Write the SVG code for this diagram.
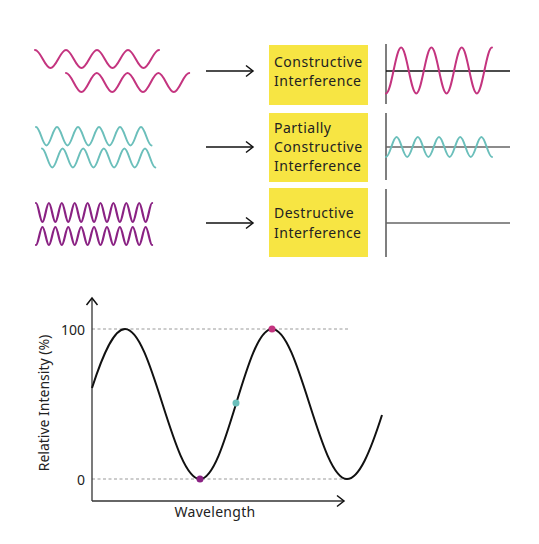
<svg xmlns="http://www.w3.org/2000/svg" width="539" height="544" viewBox="0 0 539 544">
<style>
  .wave{fill:none;stroke-width:2;stroke-linecap:round}
  .mag{stroke:#C4347F}
  .teal{stroke:#6BBFBB}
  .pur{stroke:#8A2283;stroke-width:2.2}
  .box{fill:#F7E543}
  .lbl{font-family:"Noto Sans","Open Sans","Liberation Sans",sans-serif;font-size:14px;fill:#222}
  .bl{letter-spacing:0.5px}
  .arrow{stroke:#111;stroke-width:1.5;fill:none}
  .axisv{stroke:#555;stroke-width:1.5}
  .dash{stroke:#999;stroke-width:1;stroke-dasharray:3 2.5}
</style>
<defs>
  <marker id="chev" markerUnits="userSpaceOnUse" markerWidth="12" markerHeight="14" viewBox="0 0 12 14" refX="10" refY="7" orient="auto">
    <path d="M3,1.5 L10,7 L3,12.5" fill="none" stroke="#111" stroke-width="1.5"/>
  </marker>
</defs>
<rect width="539" height="544" fill="#fff"/>

<g id="input-constructive">
  <path class="wave mag" d="M35 50c5.64 0 9.86 18 15.5 18s9.86 -18 15.5 -18s9.86 18 15.5 18s9.86 -18 15.5 -18s9.86 18 15.5 18s9.86 -18 15.5 -18s9.86 18 15.5 18s9.86 -18 15.5 -18"/>
  <path class="wave mag" d="M66 73c5.6 0 9.8 19 15.4 19s9.8 -19 15.4 -19s9.8 19 15.4 19s9.8 -19 15.4 -19s9.8 19 15.4 19s9.8 -19 15.4 -19s9.8 19 15.4 19s9.8 -19 15.4 -19"/>
</g>
<g id="input-partial">
  <path class="wave teal" d="M36 127c3.82 0 6.68 18.5 10.5 18.5s6.68 -18.5 10.5 -18.5s6.68 18.5 10.5 18.5s6.68 -18.5 10.5 -18.5s6.68 18.5 10.5 18.5s6.68 -18.5 10.5 -18.5s6.68 18.5 10.5 18.5s6.68 -18.5 10.5 -18.5s6.68 18.5 10.5 18.5s6.68 -18.5 10.5 -18.5s6.68 18.5 10.5 18.5"/>
  <path class="wave teal" d="M42 148.5c3.75 0 6.55 19 10.3 19s6.55 -19 10.3 -19s6.55 19 10.3 19s6.55 -19 10.3 -19s6.55 19 10.3 19s6.55 -19 10.3 -19s6.55 19 10.3 19s6.55 -19 10.3 -19s6.55 19 10.3 19s6.55 -19 10.3 -19s6.55 19 10.3 19"/>
</g>
<g id="input-destructive">
  <path class="wave pur" d="M36 203c2.35 0 4.1 19 6.45 19s4.1 -19 6.45 -19s4.1 19 6.45 19s4.1 -19 6.45 -19s4.1 19 6.45 19s4.1 -19 6.45 -19s4.1 19 6.45 19s4.1 -19 6.45 -19s4.1 19 6.45 19s4.1 -19 6.45 -19s4.1 19 6.45 19s4.1 -19 6.45 -19s4.1 19 6.45 19s4.1 -19 6.45 -19s4.1 19 6.45 19s4.1 -19 6.45 -19s4.1 19 6.45 19s4.1 -19 6.45 -19"/>
  <path class="wave pur" d="M36 245c2.35 0 4.1 -18 6.45 -18s4.1 18 6.45 18s4.1 -18 6.45 -18s4.1 18 6.45 18s4.1 -18 6.45 -18s4.1 18 6.45 18s4.1 -18 6.45 -18s4.1 18 6.45 18s4.1 -18 6.45 -18s4.1 18 6.45 18s4.1 -18 6.45 -18s4.1 18 6.45 18s4.1 -18 6.45 -18s4.1 18 6.45 18s4.1 -18 6.45 -18s4.1 18 6.45 18s4.1 -18 6.45 -18s4.1 18 6.45 18"/>
</g>

<g id="connectors">
  <line class="arrow" x1="206" y1="71" x2="253" y2="71" marker-end="url(#chev)"/>
  <line class="arrow" x1="206" y1="147" x2="253" y2="147" marker-end="url(#chev)"/>
  <line class="arrow" x1="206" y1="223" x2="253" y2="223" marker-end="url(#chev)"/>
</g>

<g id="box-constructive">
  <rect class="box" x="269" y="45" width="99" height="60"/>
  <text class="lbl bl" x="274" y="67">Constructive</text>
  <text class="lbl bl" x="274" y="86">Interference</text>
</g>
<g id="box-partial">
  <rect class="box" x="269" y="113" width="99" height="69"/>
  <text class="lbl bl" x="274" y="133">Partially</text>
  <text class="lbl bl" x="274" y="152">Constructive</text>
  <text class="lbl bl" x="274" y="171">Interference</text>
</g>
<g id="box-destructive">
  <rect class="box" x="269" y="188" width="99" height="69"/>
  <text class="lbl bl" x="274" y="218">Destructive</text>
  <text class="lbl bl" x="274" y="238">Interference</text>
</g>

<g id="result-constructive">
  <line class="axisv" x1="386" y1="44" x2="386" y2="104"/>
  <line x1="386" y1="71" x2="510" y2="71" stroke="#111" stroke-width="1.3"/>
  <path class="wave mag" d="M386 93.5c5.51 0 9.63 -46 15.14 -46s9.63 46 15.14 46s9.63 -46 15.14 -46s9.63 46 15.14 46s9.63 -46 15.14 -46s9.63 46 15.14 46s9.63 -46 15.14 -46"/>
</g>
<g id="result-partial">
  <line class="axisv" x1="386" y1="113" x2="386" y2="180"/>
  <line x1="386" y1="147" x2="510" y2="147" stroke="#666" stroke-width="1.5"/>
  <path class="wave teal" d="M386 157c3.86 0 6.74 -20 10.6 -20s6.74 20 10.6 20s6.74 -20 10.6 -20s6.74 20 10.6 20s6.74 -20 10.6 -20s6.74 20 10.6 20s6.74 -20 10.6 -20s6.74 20 10.6 20s6.74 -20 10.6 -20s6.74 20 10.6 20"/>
</g>
<g id="result-destructive">
  <line class="axisv" x1="386" y1="189" x2="386" y2="257"/>
  <line x1="386" y1="223" x2="510" y2="223" stroke="#666" stroke-width="1.5"/>
</g>

<g id="graph">
  <line class="dash" x1="92" y1="329" x2="348" y2="329"/>
  <line class="dash" x1="92" y1="479" x2="348" y2="479"/>
  <line x1="92" y1="501" x2="92" y2="298" stroke="#333" stroke-width="1.3" marker-end="url(#chev)"/>
  <line x1="92" y1="501" x2="344" y2="501" stroke="#333" stroke-width="1.3" marker-end="url(#chev)"/>
  <path d="M92 388C103 354 114 329 125 329C152.3 329 172.7 479 200 479C226.2 479 245.8 329 272 329C299.3 329 319.7 479 347 479C359 479 370.3 451.5 382 415" fill="none" stroke="#111" stroke-width="2"/>
  <circle cx="272" cy="329" r="3.5" fill="#C4347F"/>
  <circle cx="236" cy="403" r="3.5" fill="#6BBFBB"/>
  <circle cx="200" cy="479" r="3.5" fill="#8A2283"/>
  <text class="lbl" x="85" y="335" text-anchor="end">100</text>
  <text class="lbl" x="85" y="485" text-anchor="end">0</text>
  <text class="lbl" x="215" y="517" text-anchor="middle" letter-spacing="0.3">Wavelength</text>
  <text class="lbl" transform="translate(49,403) rotate(-90)" text-anchor="middle">Relative Intensity (%)</text>
</g>
</svg>
